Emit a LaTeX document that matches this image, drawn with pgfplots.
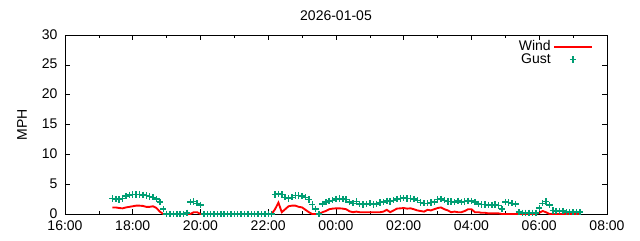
\documentclass[border=0pt]{standalone}
\usepackage{pgfplots}
\pgfplotsset{compat=1.18}
\usepackage{pgfplotstable}
\usepackage{fontspec}
\setmainfont{Liberation Sans}
\definecolor{gred}{HTML}{FF0000}
\definecolor{ggreen}{HTML}{009E73}
\pgfplotsset{
  windlegend/.style={legend image code/.code={\draw[##1] (0pt,0pt) -- (28pt,0pt);}},
  gustlegend/.style={legend image code/.code={\draw[ggreen, mark=+, mark size=2.4pt, line width=0.5pt] plot coordinates {(14pt,0pt)};}},
}
\pgfplotstableread{
t wind gust
17.4 1.1 2.6
17.5 1.1 2.5
17.6 1.0 2.4
17.7 0.95 2.6
17.8 1.1 3.0
17.9 1.2 3.2
18.0 1.3 3.3
18.1 1.4 3.3
18.2 1.4 3.3
18.3 1.35 3.2
18.4 1.2 3.1
18.5 1.2 2.9
18.6 1.3 2.8
18.7 1.0 2.5
18.8 0.4 2.0
18.9 0 0.8
19.0 0 0
19.1 0 0
19.2 0 0
19.3 0 0
19.4 0 0
19.5 0 0
19.6 0 0.2
19.7 0 2.0
19.8 0.3 2.1
19.9 0.3 1.8
20.0 0 1.5
20.1 0 0
20.2 0 0
20.3 0 0
20.4 0 0
20.5 0 0
20.6 0 0
20.7 0 0
20.8 0 0
20.9 0 0
21.0 0 0
21.1 0 0
21.2 0 0
21.3 0 0
21.4 0 0
21.5 0 0
21.6 0 0
21.7 0 0
21.8 0 0
21.9 0 0
22.0 0 0
22.1 0 0
22.2 0.8 3.3
22.3 1.9 3.4
22.4 0.3 3.3
22.5 0.8 2.8
22.6 1.3 2.6
22.7 1.4 2.8
22.8 1.4 3.1
22.9 1.2 3.1
23.0 1.1 3.0
23.1 0.7 2.8
23.2 0.3 2.4
23.3 0 1.6
23.4 0 0.8
23.5 0 0.0
23.6 0.3 1.7
23.7 0.5 2.0
23.8 0.8 2.2
23.9 0.9 2.3
24.0 0.95 2.5
24.1 0.95 2.6
24.2 0.9 2.5
24.3 0.8 2.4
24.4 0.45 2.0
24.5 0.3 1.8
24.6 0.4 2.1
24.7 0.3 1.7
24.8 0.3 1.6
24.9 0.3 1.7
25.0 0.3 1.8
25.1 0.3 1.6
25.2 0.3 1.7
25.3 0.3 1.9
25.4 0.4 2.0
25.5 0.7 2.2
25.6 0.3 2.1
25.7 0.6 2.3
25.8 0.9 2.5
25.9 0.95 2.6
26.0 1.0 2.7
26.1 0.9 2.6
26.2 0.95 2.6
26.3 0.8 2.5
26.4 0.6 2.3
26.5 0.5 1.9
26.6 0.4 1.8
26.7 0.7 1.8
26.8 0.6 1.9
26.9 0.8 2.0
27.0 1.0 2.4
27.1 1.1 2.5
27.2 0.8 2.3
27.3 0.6 2.1
27.4 0.3 2.1
27.5 0.4 2.0
27.6 0.3 2.2
27.7 0.3 2.0
27.8 0.5 2.1
27.9 0.8 2.2
28.0 0.8 2.2
28.1 0.3 2.0
28.2 0.3 1.7
28.3 0.2 1.6
28.4 0.2 1.6
28.5 0.1 1.5
28.6 0.1 1.5
28.7 0.1 1.6
28.8 0.1 1.4
28.9 0 0.8
29.0 0 2.0
29.1 0 1.9
29.2 0 1.8
29.3 0 1.7
29.4 0 0.3
29.5 0 0.2
29.6 0 0.2
29.7 0 0.2
29.8 0 0.2
29.9 0 0.2
30.0 0.2 1.0
30.1 0.5 1.8
30.2 0.3 2.1
30.3 0 1.5
30.4 0 0.6
30.5 0 0.5
30.6 0 0.5
30.7 0 0.5
30.8 0 0.3
30.9 0 0.3
31.0 0 0.3
31.1 0 0.3
31.2 0 0.3
}\data
\begin{document}
\fontsize{10.5}{12.5}\selectfont
\begin{tikzpicture}
\path[use as bounding box] (-48.75pt,-19.5pt) rectangle (431.25pt,160.5pt);
\begin{axis}[
  scale only axis,
  width=406.5pt, height=134.25pt,
  xmin=16, xmax=32, ymin=0, ymax=30,
  xtick={16,18,...,32},
  xticklabels={16:00,18:00,20:00,22:00,00:00,02:00,04:00,06:00,08:00},
  minor x tick num=1,
  ytick={0,5,...,30},
  tick align=inside,
  tick style={black, thin},
  major tick length=4pt, minor tick length=2.5pt,
  axis line style={black, thin},
  /pgf/number format/assume math mode=true,
  ticklabel style={font=\fontsize{10.5}{12.5}\selectfont},
  xticklabel style={yshift=-1.5pt},
  yticklabel style={xshift=-2pt, yshift=0.5pt},
  title={2026-01-05},
  title style={font=\fontsize{10.5}{12.5}\selectfont, yshift=1pt},
  ylabel={MPH},
  ylabel style={font=\fontsize{10.5}{12.5}\selectfont, yshift=4pt},
  legend style={at={(rel axis cs:0.974,0.985)}, anchor=north east, draw=none, fill=none,
    font=\fontsize{10.5}{12.5}\selectfont, row sep=-3.5pt, inner sep=0pt},
  legend cell align=right,
  legend plot pos=right,
]
\addplot[gred, line width=1.4pt, mark=none, windlegend] table[x=t, y=wind] {\data};
\addlegendentry{Wind}
\addplot[ggreen, only marks, mark=+, mark size=2.4pt, mark options={ggreen, line width=1.1pt}, gustlegend] table[x=t, y=gust] {\data};
\addlegendentry{Gust}
\end{axis}
\end{tikzpicture}
\end{document}
